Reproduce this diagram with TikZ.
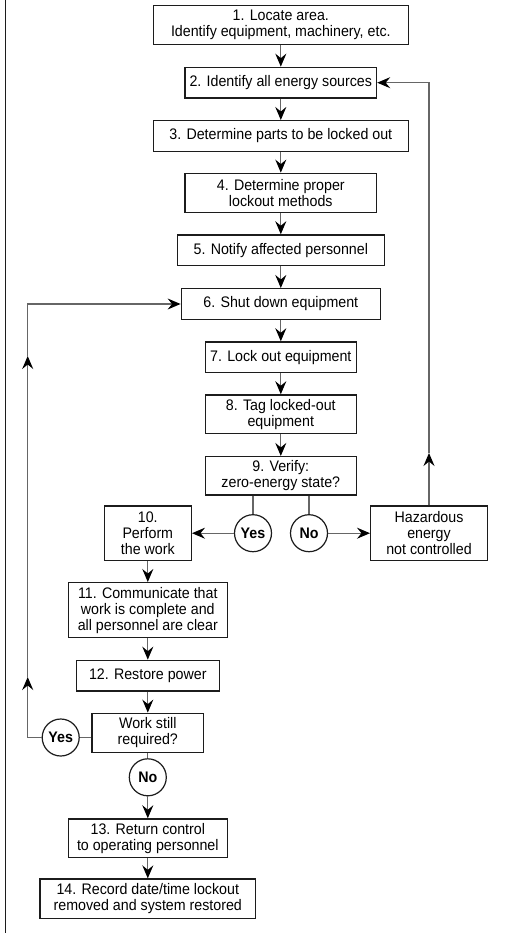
\documentclass[tikz,border=0pt]{standalone}
\usepackage{fontspec}
\setmainfont{Liberation Sans}[FakeStretch=0.93]
\usetikzlibrary{arrows.meta}
\definecolor{boxc}{HTML}{1C1C1C}
\definecolor{connc}{HTML}{666666}
\begin{document}
\begin{tikzpicture}[x=1pt,y=-1pt,
  txt/.style={font=\fontsize{15.3}{16}\selectfont},
  box/.style={draw=boxc, line width=1.4pt, fill=white, align=center, inner sep=0pt, txt},
  circ/.style={circle, draw=boxc, line width=1.2pt, fill=white, minimum size=37pt, inner sep=0pt, font=\bfseries\fontsize{15.3}{16}\selectfont},
  conn/.style={draw=connc, line width=1.2pt},
  arr/.style={conn, -{Stealth[length=13pt,width=11pt,inset=4.5pt,black]}}]
\useasboundingbox (0,0) rectangle (505,933);
\fill[white] (0,0) rectangle (505,933);
\draw[boxc, line width=1.3pt] (5.5,0) -- (5.5,933);

\node[box, minimum width=255pt, minimum height=38.6pt] (b1) at (280.8,25) {1. Locate area.\\Identify equipment, machinery, etc.};
\node[box, minimum width=191.4pt, minimum height=30.7pt] (b2) at (280.8,82.7) {2. Identify all energy sources};
\node[box, minimum width=255pt, minimum height=30.6pt] (b3) at (280.8,136) {3. Determine parts to be locked out};
\node[box, minimum width=191.4pt, minimum height=39.4pt] (b4) at (280.8,193) {4. Determine proper\\lockout methods};
\node[box, minimum width=207pt, minimum height=30.7pt] (b5) at (280.8,250.3) {5. Notify affected personnel};
\node[box, minimum width=199pt, minimum height=30.6pt] (b6) at (280.8,304) {6. Shut down equipment};
\node[box, minimum width=151pt, minimum height=30.7pt] (b7) at (280.8,357.3) {7. Lock out equipment};
\node[box, minimum width=151pt, minimum height=38.7pt] (b8) at (280.8,414.3) {8. Tag locked-out\\equipment};
\node[box, minimum width=151pt, minimum height=38.3pt] (b9) at (280.8,475.8) {9. Verify:\\zero-energy state?};
\node[box, minimum width=87pt, minimum height=54.3pt] (b10) at (147.8,533.2) {10.\\Perform\\the work};
\node[box, minimum width=116.6pt, minimum height=54.3pt] (hz) at (429,533.2) {Hazardous\\energy\\not controlled};
\node[circ] (yes1) at (253,533.2) {Yes};
\node[circ] (no1) at (309,533.2) {No};
\node[box, minimum width=159pt, minimum height=55pt] (b11) at (147.8,610.2) {11. Communicate that\\work is complete and\\all personnel are clear};
\node[box, minimum width=143pt, minimum height=30.7pt] (b12) at (147.8,675.7) {12. Restore power};
\node[box, minimum width=111.6pt, minimum height=39pt] (bw) at (147.8,732.8) {Work still\\required?};
\node[circ] (yes2) at (60.7,737.5) {Yes};
\node[circ] (no2) at (147.8,777.3) {No};
\node[box, minimum width=159pt, minimum height=38.7pt] (b13) at (147.8,838.3) {13. Return control\\to operating personnel};
\node[box, minimum width=215.3pt, minimum height=39.3pt] (b14) at (147.8,898.7) {14. Record date/time lockout\\removed and system restored};

\coordinate (R1) at (429,453);
\coordinate (R2) at (429,82.7);
\coordinate (L0) at (27.7,737.5);
\coordinate (L1) at (27.7,677);
\coordinate (L2) at (27.7,356);
\coordinate (L3) at (27.7,304);

\draw[arr] (b1.south) -- (b2.north);
\draw[arr] (b2.south) -- (b3.north);
\draw[arr] (b3.south) -- (b4.north);
\draw[arr] (b4.south) -- (b5.north);
\draw[arr] (b5.south) -- (b6.north);
\draw[arr] (b6.south) -- (b7.north);
\draw[arr] (b7.south) -- (b8.north);
\draw[arr] (b8.south) -- (b9.north);
\draw[conn] (yes1.north |- b9.south) -- (yes1.north);
\draw[conn] (no1.north |- b9.south) -- (no1.north);
\draw[arr] (yes1.west) -- (b10.east);
\draw[arr] (no1.east) -- (hz.west);
\draw[arr] (hz.north) -- (R1);
\draw[arr] (R1) -- (R2) -- (b2.east);
\draw[arr] (b10.south) -- (b11.north);
\draw[arr] (b11.south) -- (b12.north);
\draw[arr] (b12.south) -- (bw.north);
\draw[conn] (bw.west |- yes2) -- (yes2.east);
\draw[arr] (yes2.west) -- (L0) -- (L1);
\draw[arr] (L1) -- (L2);
\draw[arr] (L2) -- (L3) -- (b6.west);
\draw[conn] (bw.south) -- (no2.north);
\draw[arr] (no2.south) -- (b13.north);
\draw[arr] (b13.south) -- (b14.north);
\end{tikzpicture}
\end{document}
